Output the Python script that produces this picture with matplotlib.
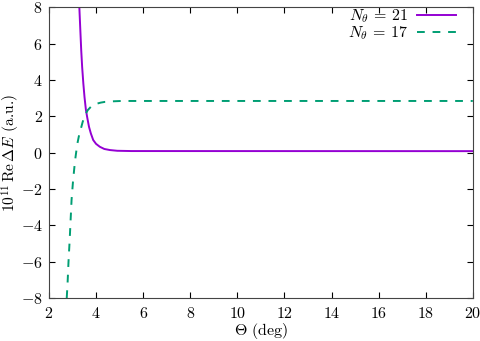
import matplotlib
matplotlib.use("Agg")
import matplotlib.pyplot as plt
from matplotlib.ticker import FuncFormatter

plt.rcParams["font.family"] = "serif"
plt.rcParams["font.serif"] = ["cmr10", "DejaVu Serif"]
plt.rcParams["mathtext.fontset"] = "cm"
plt.rcParams["axes.unicode_minus"] = False

# N_theta = 21 (solid purple)
theta_21 = [3.29, 3.33, 3.37, 3.41, 3.46, 3.51, 3.57, 3.63, 3.70, 3.78, 3.88, 4.00, 4.16, 4.35,
            4.59, 4.90, 5.50, 20.0]
de_21 = [8.0, 6.8, 5.63, 4.7, 3.8, 3.05, 2.34, 1.9, 1.42, 1.05, 0.69, 0.48, 0.32, 0.2,
         0.14, 0.1, 0.085, 0.08]

# N_theta = 17 (dashed green)
theta_17 = [2.755, 2.79, 2.83, 2.88, 2.92, 2.96, 3.02, 3.08, 3.13, 3.20, 3.27, 3.34, 3.43, 3.53,
            3.65, 3.81, 4.00, 4.20, 4.38, 4.70, 5.08, 20.0]
de_17 = [-8.0, -7.2, -6.0, -4.8, -3.7, -2.6, -1.6, -0.8, -0.23, 0.45, 0.9, 1.24, 1.68, 2.06,
         2.34, 2.56, 2.68, 2.75, 2.79, 2.82, 2.84, 2.84]

fig = plt.figure(figsize=(4.8, 3.41), dpi=100)
ax = fig.add_axes([0.102, 0.126, 0.883, 0.853])

ax.plot(theta_21, de_21, color="#9400d3", lw=1.4, label=r"$N_\theta$ = 21",
        solid_joinstyle="round")
ax.plot(theta_17, de_17, color="#009e73", lw=1.4, ls=(0, (4, 4)), label=r"$N_\theta$ = 17")

ax.set_xlim(2, 20)
ax.set_ylim(-8, 8)
ax.set_xticks(range(2, 21, 2))
ax.set_yticks(range(-8, 9, 2))


def tick_fmt(v, pos):
    n = int(round(v))
    return ("$\u2212%d$" % -n) if n < 0 else ("$%d$" % n)


ax.xaxis.set_major_formatter(FuncFormatter(tick_fmt))
ax.yaxis.set_major_formatter(FuncFormatter(tick_fmt))
ax.tick_params(direction="in", top=True, right=True, length=4, labelsize=11.5)
ax.tick_params(axis="x", pad=6)
ax.tick_params(axis="y", pad=4.5)
for s in ax.spines.values():
    s.set_color("#444444")
    s.set_linewidth(0.8)

ax.set_xlabel(r"$\Theta$ (deg)", fontsize=11.5, labelpad=0)
ax.set_ylabel(r"$10^{11}\,\mathrm{Re}\,\Delta E$ (a.u.)", fontsize=11.2)
ax.yaxis.set_label_coords(-0.064, 0.5)

ax.legend(loc="upper right", bbox_to_anchor=(0.975, 1.02), frameon=False, markerfirst=False,
          fontsize=11.5, handlelength=2.4, labelspacing=-0.05, borderaxespad=0.0,
          handletextpad=0.6)

fig.savefig("out.png", dpi=100)
